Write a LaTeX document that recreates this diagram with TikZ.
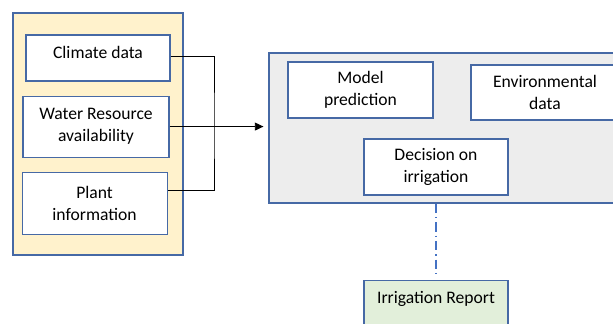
\documentclass[tikz,border=0pt]{standalone}
\usepackage{fontspec}
\setmainfont{Carlito}
\usepackage{xcolor}
\usetikzlibrary{positioning,arrows.meta,calc}

\definecolor{edgeblue}{RGB}{70,105,165}
\definecolor{dashblue}{RGB}{68,114,196}
\definecolor{inputfill}{RGB}{255,242,204}
\definecolor{panelfill}{RGB}{237,237,237}
\definecolor{reportfill}{RGB}{226,239,218}

\begin{document}
\begin{tikzpicture}[
    x=0.75pt, y=-0.75pt,
    font=\fontsize{13.2}{16.5}\selectfont,
    frame_box/.style={draw=edgeblue, line width=0.8pt},
    item_box/.style={draw=edgeblue, line width=0.8pt, fill=white, align=center, inner sep=4pt},
    link/.style={draw=black, line width=0.7pt},
    arrow/.style={link, -{Triangle[length=6.5pt,width=6pt]}}
]
\useasboundingbox (0,0) rectangle (613,324);

% input group
\node (inputs) [frame_box, fill=inputfill, minimum width=127.5pt, minimum height=181.5pt] at (98,134) {};

\node (climate) [item_box, minimum width=108pt, minimum height=34.5pt, text height=9pt, text depth=7.5pt] at (98,58)
    {Climate data};
\node (water)   [item_box, minimum width=109.5pt, minimum height=45.75pt, below=10.5pt of climate, xshift=-1.5pt]
    {Water Resource\\availability};
\node (plant)   [item_box, minimum width=108.75pt, minimum height=46.5pt, below=11pt of water, xshift=-1.1pt]
    {Plant\\information};

% processing panel
\node (panel) [frame_box, fill=panelfill, minimum width=278.25pt, minimum height=112.5pt] at (454.5,128) {};

\node (model)    [item_box, minimum width=108.75pt, minimum height=42pt] at (360.5,90)
    {Model\\prediction};
\node (envdata)  [item_box, minimum width=111pt, minimum height=41.25pt] at (545,92.5)
    {Environmental\\data};
\node (decision) [item_box, minimum width=108pt, minimum height=42pt] at (436,167)
    {Decision on\\irrigation};

% output
\node (report) [draw=edgeblue, line width=0.8pt, fill=reportfill, anchor=north, minimum width=108pt,
    text height=12pt, text depth=16pt, inner sep=5.25pt] at (436,280)
    {Irrigation Report};

\coordinate (bus) at (214,128);

\draw [link]  ([yshift=1.5pt]climate.east) -| (bus) |- ([yshift=9.75pt]plant.east);
\draw [arrow, shorten >=3.75pt] (water.east) -- (water.east -| panel.west);
\draw [draw=dashblue, line width=1pt, dash pattern=on 7pt off 3pt on 1pt off 3pt, shorten >=3pt]
    (decision.south |- panel.south) -- (report.north);

\end{tikzpicture}
\end{document}
